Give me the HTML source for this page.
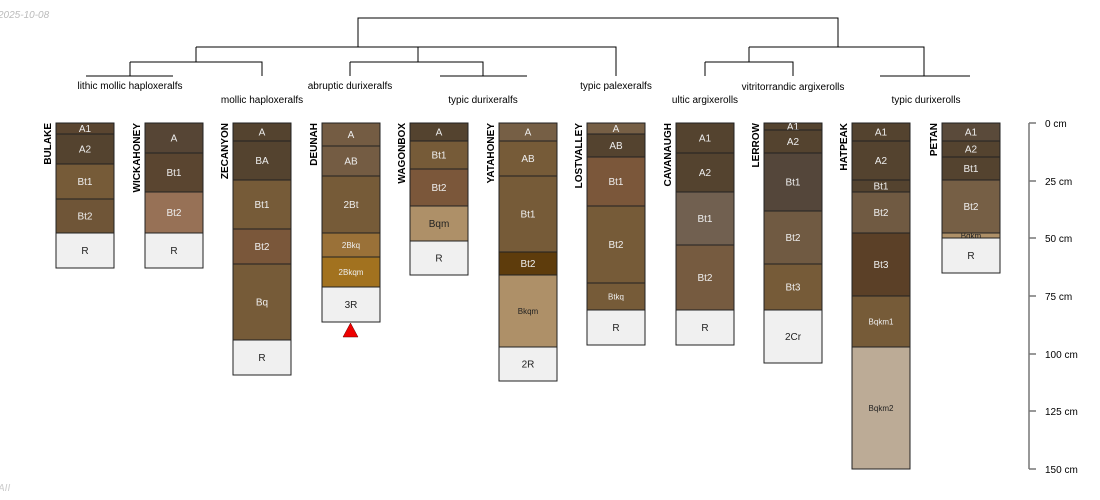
<!DOCTYPE html>
<html><head><meta charset="utf-8"><style>
html,body{margin:0;padding:0;background:#fff;width:1100px;height:500px;overflow:hidden}
svg text{font-family:"Liberation Sans",sans-serif}
</style></head><body>
<svg width="1100" height="500" xmlns="http://www.w3.org/2000/svg">
<text x="-2" y="18" font-size="10" font-style="italic" fill="#bbb">2025-10-08</text>
<text x="-2" y="491" font-size="10" font-style="italic" fill="#ccc">AII</text>
<g stroke="#000" stroke-width="1" fill="none">
<path d="M358 47V18H838V47"/>
<path d="M196 47H616V76M196 47V62M418 47V62"/>
<path d="M130 62H262V76M130 62V76M86 76H173"/>
<path d="M350 62H483V76M350 62V76M440 76H527"/>
<path d="M749 47H924V76M838 47M749 47V62M705 62H793V76M705 62V76M880 76H970"/>
</g>
<g font-size="10" fill="#000" text-anchor="middle">
<text x="130" y="89">lithic mollic haploxeralfs</text>
<text x="262" y="103">mollic haploxeralfs</text>
<text x="350" y="89">abruptic durixeralfs</text>
<text x="483" y="103">typic durixeralfs</text>
<text x="616" y="89">typic palexeralfs</text>
<text x="705" y="103">ultic argixerolls</text>
<text x="793" y="90">vitritorrandic argixerolls</text>
<text x="926" y="103">typic durixerolls</text>
</g>
<g id="profiles" stroke="#222" stroke-width="1" font-size="10" text-anchor="middle"></g>
<g stroke="#777" stroke-width="1.5">
<path d="M1029 123V469M1029 123h7M1029 181h7M1029 238h7M1029 296h7M1029 354h7M1029 411h7M1029 469h7"/>
</g>
<g font-size="10" fill="#000">
<text x="1045" y="127">0 cm</text><text x="1045" y="185">25 cm</text><text x="1045" y="242">50 cm</text>
<text x="1045" y="300">75 cm</text><text x="1045" y="358">100 cm</text><text x="1045" y="415">125 cm</text><text x="1045" y="473">150 cm</text>
</g>
<polygon points="343,337 358,337 350.5,323" fill="#e00" stroke="#600" stroke-width="0.5"/>
</svg>
<script>
const P=[
["BULAKE",56,[["A1",123,134,"#5a4530"],["A2",134,164,"#54432f"],["Bt1",164,199,"#765b38"],["Bt2",199,233,"#6f5537"],["R",233,268,"#f0f0f0"]]],
["WICKAHONEY",145,[["A",123,153,"#564535"],["Bt1",153,192,"#5a4530"],["Bt2",192,233,"#977156"],["R",233,268,"#f0f0f0"]]],
["ZECANYON",233,[["A",123,141,"#54432f"],["BA",141,180,"#54432f"],["Bt1",180,229,"#765b38"],["Bt2",229,264,"#7a573a"],["Bq",264,340,"#765b38"],["R",340,375,"#f0f0f0"]]],
["DEUNAH",322,[["A",123,146,"#745c43"],["AB",146,176,"#745c43"],["2Bt",176,233,"#765b38"],["2Bkq",233,257,"#9a7138",1],["2Bkqm",257,287,"#a2721f",1],["3R",287,322,"#f0f0f0"]]],
["WAGONBOX",410,[["A",123,141,"#54432f"],["Bt1",141,169,"#765b38"],["Bt2",169,206,"#7b573a"],["Bqm",206,241,"#ae9068"],["R",241,275,"#f0f0f0"]]],
["YATAHONEY",499,[["A",123,141,"#765f45"],["AB",141,176,"#765b38"],["Bt1",176,252,"#765b38"],["Bt2",252,275,"#5e3c0c"],["Bkqm",275,347,"#ae9068",1],["2R",347,381,"#f0f0f0"]]],
["LOSTVALLEY",587,[["A",123,134,"#765f45"],["AB",134,157,"#54432f"],["Bt1",157,206,"#7b573a"],["Bt2",206,283,"#765b38"],["Btkq",283,310,"#765b38",1],["R",310,345,"#f0f0f0"]]],
["CAVANAUGH",676,[["A1",123,153,"#54432f"],["A2",153,192,"#54432f"],["Bt1",192,245,"#716050"],["Bt2",245,310,"#765b40"],["R",310,345,"#f0f0f0"]]],
["LERROW",764,[["A1",123,130,"#54432f"],["A2",130,153,"#54432f"],["Bt1",153,211,"#54463a"],["Bt2",211,264,"#705a42"],["Bt3",264,310,"#765b38"],["2Cr",310,363,"#f0f0f0"]]],
["HATPEAK",852,[["A1",123,141,"#54432f"],["A2",141,180,"#54432f"],["Bt1",180,192,"#54432f"],["Bt2",192,233,"#705a42"],["Bt3",233,296,"#5b4027"],["Bqkm1",296,347,"#765b38",1],["Bqkm2",347,469,"#bcab96",1]]],
["PETAN",942,[["A1",123,141,"#5a4a3a"],["A2",141,157,"#54432f"],["Bt1",157,180,"#54432f"],["Bt2",180,233,"#765f45"],["Bqkm",233,238,"#ae9068",1],["R",238,273,"#f0f0f0"]]]];
const g=document.getElementById('profiles');let s='';
for(const[n,x,hs]of P){const w=58;
for(const[l,t,b,c,sm]of hs){
s+=`<rect x="${x}" y="${t}" width="${w}" height="${b-t}" fill="${c}"/>`;
const light=c=="#f0f0f0"||c=="#ae9068"||c=="#bcab96";
const fs=sm?8:10;
s+=`<text x="${x+w/2}" y="${(t+b)/2+fs*0.35}" font-size="${fs}" stroke="none" fill="${light?'#222':'#eee'}">${l}</text>`;}
s+=`<text transform="translate(${x-5},123) rotate(-90)" text-anchor="end" font-size="10" font-weight="bold" stroke="none" fill="#000">${n}</text>`;}
g.innerHTML=s;
</script>
</body></html>
